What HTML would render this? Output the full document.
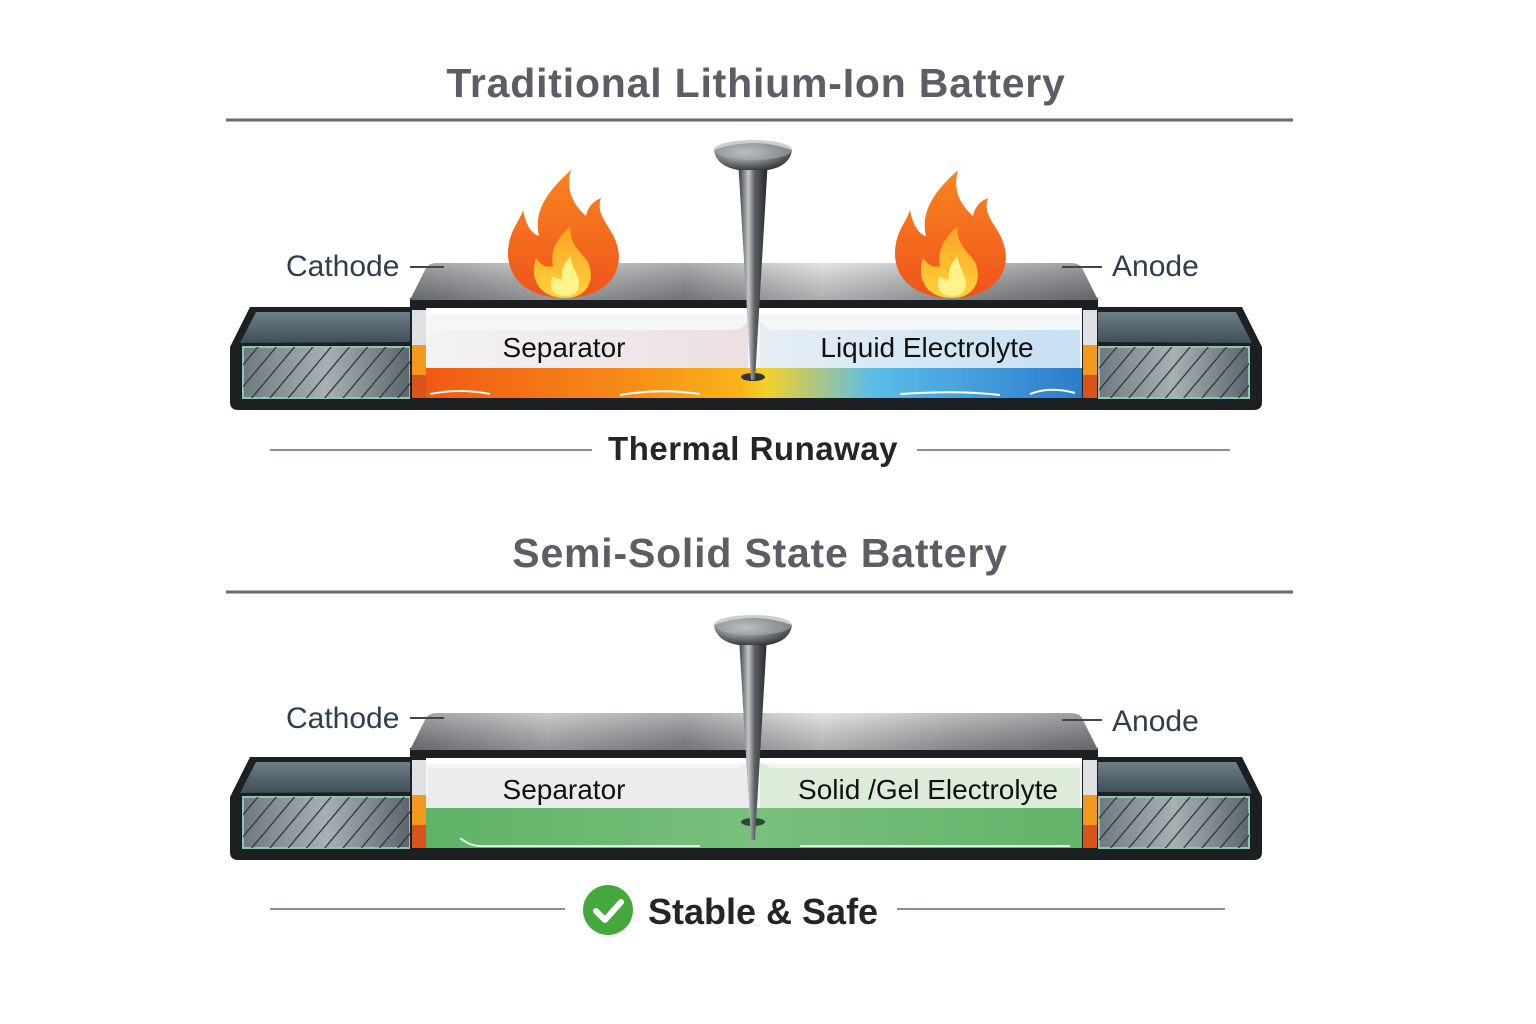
<!DOCTYPE html>
<html><head><meta charset="utf-8"><style>
html,body{margin:0;padding:0;background:#fff;}
svg{display:block;}
text{font-family:"Liberation Sans","DejaVu Sans",sans-serif;}
</style></head><body>
<svg width="1536" height="1024" viewBox="0 0 1536 1024" xmlns="http://www.w3.org/2000/svg">
<defs>
  <linearGradient id="plate" x1="0" x2="1" y1="0" y2="0">
    <stop offset="0" stop-color="#7d8184"/><stop offset="0.2" stop-color="#b8babc"/>
    <stop offset="0.4" stop-color="#8e9194"/><stop offset="0.6" stop-color="#d9dbdc"/>
    <stop offset="0.8" stop-color="#a3a6a8"/><stop offset="1" stop-color="#7b7e81"/>
  </linearGradient>
  <linearGradient id="plateV" x1="0" x2="0" y1="0" y2="1">
    <stop offset="0" stop-color="#fff" stop-opacity="0.25"/><stop offset="1" stop-color="#000" stop-opacity="0.2"/>
  </linearGradient>
  <linearGradient id="sideTop" x1="0" x2="0" y1="0" y2="1">
    <stop offset="0" stop-color="#6d7f8a"/><stop offset="1" stop-color="#3f4e57"/>
  </linearGradient>
  <linearGradient id="hatchBg" x1="0" x2="1" y1="0" y2="0">
    <stop offset="0" stop-color="#6f7a80"/><stop offset="0.5" stop-color="#a8b0b4"/><stop offset="1" stop-color="#5b666c"/>
  </linearGradient>
  <pattern id="hatch" width="14" height="14" patternUnits="userSpaceOnUse" patternTransform="rotate(40)">
    <rect width="14" height="14" fill="none"/><line x1="0" y1="0" x2="0" y2="14" stroke="#2c3439" stroke-width="2.5"/>
  </pattern>
  <linearGradient id="hot" x1="0" x2="1" y1="0" y2="0">
    <stop offset="0" stop-color="#f05a14"/><stop offset="0.3" stop-color="#f78a18"/>
    <stop offset="0.48" stop-color="#f9b41a"/><stop offset="0.52" stop-color="#f2d12a"/>
    <stop offset="0.68" stop-color="#5cbde8"/><stop offset="1" stop-color="#2c7ccc"/>
  </linearGradient>
  <linearGradient id="sepL" x1="0" x2="1"><stop offset="0" stop-color="#f3f3f3"/><stop offset="1" stop-color="#ecdfe2"/></linearGradient>
  <linearGradient id="sepR" x1="0" x2="1"><stop offset="0" stop-color="#e6eef4"/><stop offset="1" stop-color="#c6e0f4"/></linearGradient>
  <linearGradient id="green" x1="0" x2="1"><stop offset="0" stop-color="#5fb267"/><stop offset="0.5" stop-color="#78c07c"/><stop offset="1" stop-color="#63b36a"/></linearGradient>
  <linearGradient id="nail" x1="0" x2="1">
    <stop offset="0" stop-color="#2f3235"/><stop offset="0.35" stop-color="#c4c7ca"/><stop offset="0.55" stop-color="#5d6165"/><stop offset="1" stop-color="#222426"/>
  </linearGradient>
  <radialGradient id="head" cx="0.4" cy="0.35" r="0.7">
    <stop offset="0" stop-color="#d8dadc"/><stop offset="0.6" stop-color="#70757a"/><stop offset="1" stop-color="#303336"/>
  </radialGradient>
  <linearGradient id="fo" x1="0" x2="0" y1="1" y2="0"><stop offset="0" stop-color="#f0531c"/><stop offset="1" stop-color="#f7861f"/></linearGradient>
  <linearGradient id="fi" x1="0" x2="0" y1="1" y2="0"><stop offset="0" stop-color="#ffd23a"/><stop offset="1" stop-color="#f9a324"/></linearGradient>

  <g id="flame">
    <path d="M0,0 C-42,0 -62,-25 -56,-55 C-53,-70 -46,-76 -42,-88 C-39,-72 -33,-64 -26,-62 C-32,-88 -16,-108 6,-128 C0,-106 10,-92 21,-82 C23,-92 29,-97 36,-100 C30,-82 46,-72 51,-56 C61,-30 45,0 0,0 Z" fill="url(#fo)"/>
    <path d="M0,0 C-26,0 -36,-20 -29,-40 C-23,-32 -18,-30 -12,-32 C-15,-48 -8,-60 6,-72 C3,-55 16,-46 23,-36 C31,-18 22,0 0,0Z" fill="url(#fi)"/>
    <path d="M0,-2 C-13,-2 -17,-12 -12,-22 C-8,-18 -5,-18 -3,-20 C-4,-30 0,-36 6,-42 C6,-30 14,-24 14,-14 C14,-6 8,-2 0,-2Z" fill="#fff38a"/>
  </g>

  <g id="shell">
    <path d="M230,347 L250,307 L412,307 L412,410 L238,410 Q230,410 230,402 Z" fill="#1d2023"/>
    <path d="M240,343 L256,312 L412,312 L412,342 Z" fill="url(#sideTop)"/>
    <rect x="243" y="347" width="167" height="51" fill="url(#hatchBg)" stroke="#8fc7ae" stroke-width="2"/>
    <rect x="243" y="347" width="167" height="51" fill="url(#hatch)"/>
    <path d="M1262,347 L1242,307 L1098,307 L1098,410 L1254,410 Q1262,410 1262,402 Z" fill="#1d2023"/>
    <path d="M1252,343 L1236,312 L1098,312 L1098,342 Z" fill="url(#sideTop)"/>
    <rect x="1099" y="347" width="150" height="51" fill="url(#hatchBg)" stroke="#8fc7ae" stroke-width="2"/>
    <rect x="1099" y="347" width="150" height="51" fill="url(#hatch)"/>
    <rect x="410" y="298" width="688" height="112" fill="#1d2023"/>
    <path d="M410,300 L426,268 Q429,263 437,263 L1071,263 Q1079,263 1082,268 L1098,300 Z" fill="url(#plate)"/>
    <path d="M410,300 L426,268 Q429,263 437,263 L1071,263 Q1079,263 1082,268 L1098,300 Z" fill="url(#plateV)"/>
    <rect x="412" y="310" width="14" height="35" fill="#dfe1e2"/>
    <rect x="1083" y="310" width="14" height="35" fill="#dfe1e2"/>
    <rect x="412" y="345" width="14" height="30" fill="#f39a1e"/>
    <rect x="412" y="375" width="14" height="23" fill="#d9541a"/>
    <rect x="1083" y="345" width="14" height="30" fill="#f39a1e"/>
    <rect x="1083" y="375" width="14" height="23" fill="#d9541a"/>
  </g>
</defs>

<text x="756" y="97" font-size="41" font-weight="bold" fill="#5b5f65" text-anchor="middle" letter-spacing="0.8">Traditional Lithium-Ion Battery</text>
<line x1="226" y1="120" x2="1293" y2="120" stroke="#666a6e" stroke-width="3"/>

<use href="#shell"/>
<rect x="426" y="308" width="656" height="90" fill="#f5f6f7"/>
<rect x="426" y="368" width="656" height="30" fill="url(#hot)"/>
<path d="M428,330 L738,330 L748,322 L748,368 L428,368 Z" fill="url(#sepL)"/>
<path d="M1080,330 L770,330 L760,322 L760,368 L1080,368 Z" fill="url(#sepR)"/>
<rect x="426" y="308" width="656" height="6" fill="#ffffff" opacity="0.8"/>
<path d="M430,394 Q460,388 490,394 M620,395 Q660,388 700,394 M900,394 Q960,390 1000,395 M1030,394 Q1050,386 1075,393" stroke="#fff" stroke-width="2" fill="none"/>
<text x="564" y="357" font-size="28" fill="#111" text-anchor="middle">Separator</text>
<text x="927" y="357" font-size="28" fill="#111" text-anchor="middle">Liquid Electrolyte</text>

<text x="286" y="276" font-size="30" fill="#2c3e50">Cathode</text>
<line x1="410" y1="267" x2="444" y2="267" stroke="#444" stroke-width="2"/>
<text x="1112" y="276" font-size="30" fill="#2c3e50">Anode</text>
<line x1="1062" y1="267" x2="1102" y2="267" stroke="#444" stroke-width="2"/>

<use href="#flame" transform="translate(565,298)"/>
<use href="#flame" transform="translate(952,298)"/>

<ellipse cx="753" cy="377" rx="12" ry="4" fill="#333"/>
<polygon points="738,158 768,158 755,380 751,380" fill="url(#nail)"/>
<path d="M714,150 Q753,136 792,150 Q790,166 768,170 L738,170 Q716,166 714,150Z" fill="url(#head)"/>
<ellipse cx="753" cy="150" rx="39" ry="10" fill="#a9adb1" opacity="0.6"/>

<line x1="270" y1="450" x2="592" y2="450" stroke="#8a8f94" stroke-width="2"/>
<line x1="917" y1="450" x2="1230" y2="450" stroke="#8a8f94" stroke-width="2"/>
<text x="753" y="460" font-size="33" font-weight="bold" fill="#222629" text-anchor="middle" letter-spacing="0.5">Thermal Runaway</text>

<text x="760" y="567" font-size="41" font-weight="bold" fill="#5b5f65" text-anchor="middle" letter-spacing="0.8">Semi-Solid State Battery</text>
<line x1="226" y1="592" x2="1293" y2="592" stroke="#666a6e" stroke-width="3"/>

<g transform="translate(0,450)">
<use href="#shell"/>
<rect x="426" y="308" width="656" height="90" fill="#f3f4f4"/>
<rect x="426" y="358" width="656" height="40" fill="url(#green)"/>
<path d="M428,318 L738,318 L748,310 L748,358 L428,358 Z" fill="#ececec"/>
<path d="M1080,318 L770,318 L760,310 L760,358 L1080,358 Z" fill="#dcecd8"/>
<rect x="426" y="308" width="656" height="6" fill="#ffffff" opacity="0.8"/>
<path d="M460,388 Q470,396 480,396 L700,396 M800,396 L1070,396" stroke="#dfeedd" stroke-width="2" fill="none"/>
<text x="564" y="349" font-size="28" fill="#111" text-anchor="middle">Separator</text>
<text x="928" y="349" font-size="28" fill="#111" text-anchor="middle">Solid /Gel Electrolyte</text>
<text x="286" y="278" font-size="30" fill="#2c3e50">Cathode</text>
<line x1="410" y1="268" x2="444" y2="268" stroke="#444" stroke-width="2"/>
<text x="1112" y="281" font-size="30" fill="#2c3e50">Anode</text>
<line x1="1062" y1="270" x2="1102" y2="270" stroke="#444" stroke-width="2"/>
<ellipse cx="753" cy="372" rx="12" ry="4" fill="#2a4a2e"/>
<polygon points="738,170 768,170 755,390 751,390" fill="url(#nail)"/>
<path d="M714,175 Q753,161 792,175 Q790,191 768,195 L738,195 Q716,191 714,175Z" fill="url(#head)"/>
<ellipse cx="753" cy="175" rx="39" ry="10" fill="#a9adb1" opacity="0.6"/>
</g>

<line x1="270" y1="909" x2="565" y2="909" stroke="#8a8f94" stroke-width="2"/>
<line x1="897" y1="909" x2="1225" y2="909" stroke="#8a8f94" stroke-width="2"/>
<circle cx="608" cy="910" r="25" fill="#45a83d"/>
<path d="M596,911 L605,920 L621,902" stroke="#fff" stroke-width="6" fill="none" stroke-linecap="round" stroke-linejoin="round"/>
<text x="648" y="924" font-size="36" font-weight="bold" fill="#222629">Stable &amp; Safe</text>
</svg>
</body></html>
